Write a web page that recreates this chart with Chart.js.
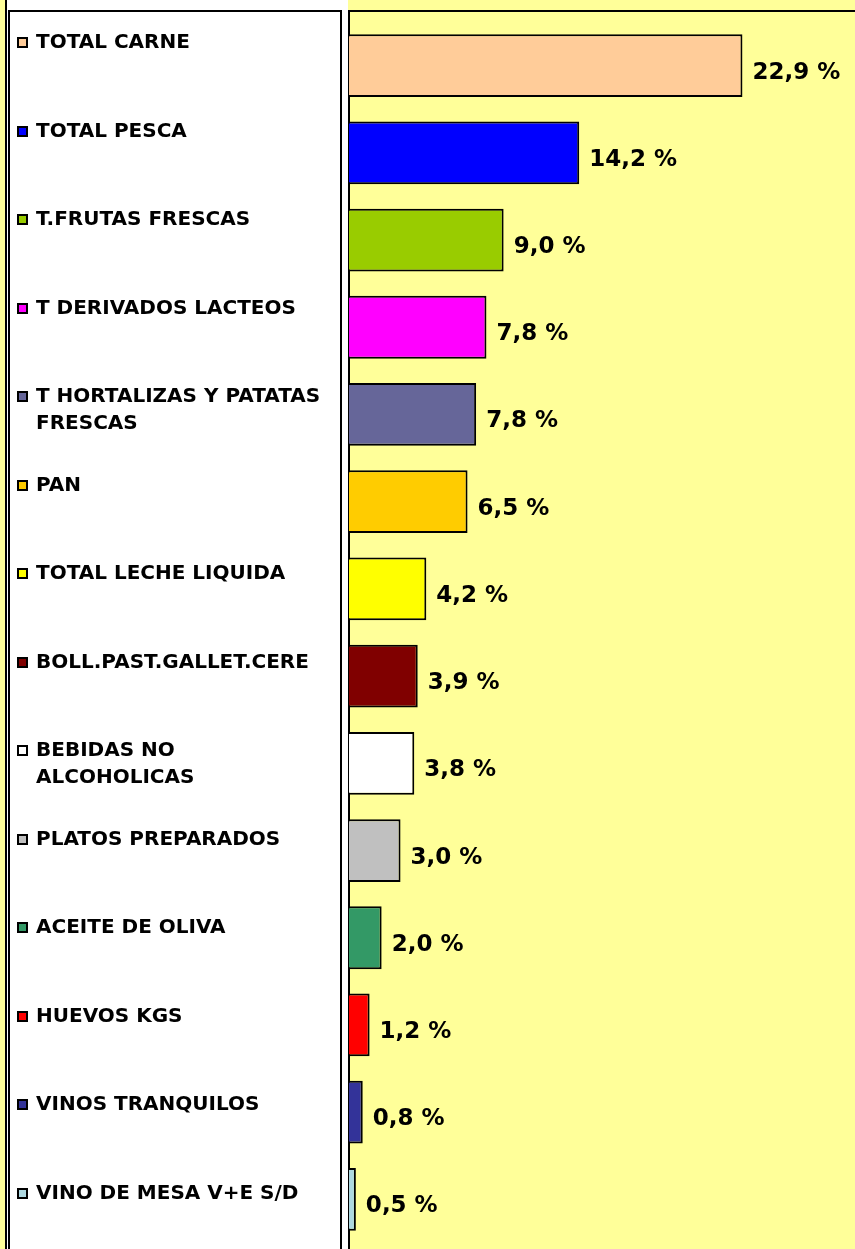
<!DOCTYPE html>
<html lang="es">
<head>
    <meta charset="UTF-8">
    <title>Cuota de gasto por producto</title>
    <style>
        html, body { margin: 0; padding: 0; background: #FFFF99; }
        .wrap { width: 855px; height: 1249px; position: relative; }
    </style>
</head>
<body>

<div class="wrap"><canvas id="shareChart" width="855" height="1249"></canvas></div>

<script src="https://cdn.jsdelivr.net/npm/chart.js"></script>
<script>
    // categories, as the legend shows them (wrapped where the original wraps)
    const categories = [
        ['TOTAL CARNE'],
        ['TOTAL PESCA'],
        ['T.FRUTAS FRESCAS'],
        ['T DERIVADOS LACTEOS'],
        ['T HORTALIZAS Y PATATAS', 'FRESCAS'],
        ['PAN'],
        ['TOTAL LECHE LIQUIDA'],
        ['BOLL.PAST.GALLET.CERE'],
        ['BEBIDAS NO', 'ALCOHOLICAS'],
        ['PLATOS PREPARADOS'],
        ['ACEITE DE OLIVA'],
        ['HUEVOS KGS'],
        ['VINOS TRANQUILOS'],
        ['VINO DE MESA V+E S/D']
    ];
    // bar lengths as drawn
    const barValues = [22.9, 13.4, 9.0, 8.0, 7.4, 6.9, 4.5, 4.0, 3.8, 3.0, 1.9, 1.2, 0.8, 0.4];
    // printed labels
    const valueLabels = ['22,9 %', '14,2 %', '9,0 %', '7,8 %', '7,8 %', '6,5 %', '4,2 %', '3,9 %',
        '3,8 %', '3,0 %', '2,0 %', '1,2 %', '0,8 %', '0,5 %'];
    const barColors = ['#FFCC99', '#0000FF', '#99CC00', '#FF00FF', '#666699', '#FFCC00', '#FFFF00',
        '#800000', '#FFFFFF', '#C0C0C0', '#339966', '#FF0000', '#333399', '#ADD8E0'];

    const FONT = '"DejaVu Sans", Verdana, sans-serif';

    // yellow plot + white legend panel + frame lines
    const framePlugin = {
        id: 'frame',
        beforeDraw(chart) {
            const ctx = chart.ctx;
            const left = 348;
            ctx.save();
            ctx.fillStyle = '#FFFF99';
            ctx.fillRect(0, 0, chart.width, chart.height);
            ctx.fillStyle = '#FFFFFF';
            ctx.fillRect(6, 0, left - 6, chart.height);
            ctx.fillStyle = '#000';
            ctx.fillRect(5, 0, 2, chart.height);
            ctx.fillRect(8, 10, 2, chart.height);
            ctx.fillRect(340, 10, 2, chart.height);
            ctx.fillRect(left, 10, 2, chart.height);
            ctx.fillRect(8, 10, 334, 2);
            ctx.fillRect(left, 10, chart.width - left, 2);
            ctx.restore();
        },
        afterDatasetsDraw(chart) {
            const ctx = chart.ctx;
            const meta = chart.getDatasetMeta(0);
            ctx.save();
            // value labels at the end of each bar
            ctx.fillStyle = '#000';
            ctx.font = 'bold 23px ' + FONT;
            ctx.textBaseline = 'middle';
            ctx.textAlign = 'left';
            meta.data.forEach((bar, i) => {
                ctx.fillText(valueLabels[i], bar.x + 10, bar.y + 7);
            });
            // legend
            ctx.font = 'bold 20px ' + FONT;
            const top = 43, step = 88.5;
            categories.forEach((lines, i) => {
                const y = Math.round(top + i * step);
                ctx.fillStyle = '#000';
                ctx.fillRect(17, y - 6, 11, 11);
                ctx.fillStyle = barColors[i];
                ctx.fillRect(19, y - 4, 7, 7);
                ctx.fillStyle = '#000';
                lines.forEach((t, j) => ctx.fillText(t, 36, y + j * 27));
            });
            ctx.restore();
        }
    };

    new Chart(document.getElementById('shareChart'), {
        type: 'bar',
        data: {
            labels: categories.map(c => c.join(' ')),
            datasets: [{
                data: barValues,
                backgroundColor: barColors,
                borderColor: '#000',
                borderWidth: 2,
                categoryPercentage: 1,
                barPercentage: 0.72
            }]
        },
        options: {
            indexAxis: 'y',
            responsive: false,
            animation: false,
            layout: { padding: { left: 349, top: 22, bottom: 6, right: 0 } },
            scales: {
                x: { display: false, min: 0, max: 29.45 },
                y: { display: false }
            },
            plugins: { legend: { display: false }, tooltip: { enabled: false } }
        },
        plugins: [framePlugin]
    });
</script>

</body>
</html>
